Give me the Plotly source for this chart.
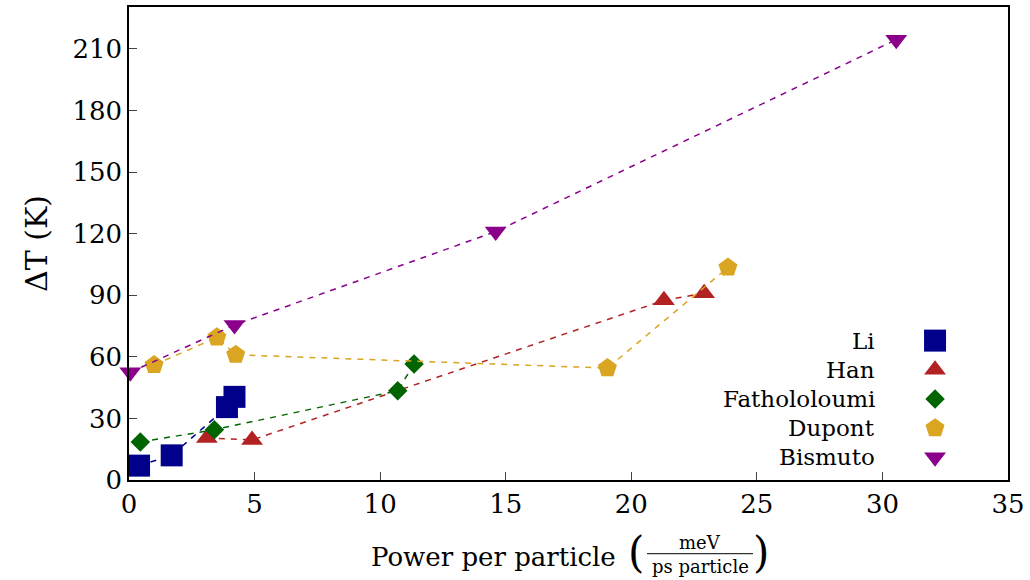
import plotly.graph_objects as go

# ---- data ----
li_x = [0.4, 1.7, 3.9, 4.2]
li_y = [7, 12, 35.5, 40.5]
han_x = [3.1, 4.9, 21.3, 22.9]
han_y = [20.5, 19.5, 87.5, 91]
fath_x = [0.45, 3.4, 10.7, 11.35]
fath_y = [18.5, 24.5, 43.5, 56.5]
dup_x = [1.0, 3.5, 4.25, 19.05, 23.85]
dup_y = [56, 69.5, 61, 54.5, 103.5]
bis_x = [0.05, 4.2, 14.6, 30.55]
bis_y = [52.5, 75.5, 121, 214.5]

names = ["Li", "Han", "Fathololoumi", "Dupont", "Bismuto"]
xs = [li_x, han_x, fath_x, dup_x, bis_x]
ys = [li_y, han_y, fath_y, dup_y, bis_y]
colors = ["#00008B", "#B22222", "#006400", "#DAA520", "#8B008B"]
symbols = ["square", "triangle-up", "diamond", "pentagon", "triangle-down"]
sizes = [22, 19, 15, 20, 19]

xticks = [0, 5, 10, 15, 20, 25, 30, 35]
yticks = [0, 30, 60, 90, 120, 150, 180, 210]

FONT = "DejaVu Serif, Liberation Serif, serif"
fig = go.Figure()
for n, x, y, c, s, sz in zip(names, xs, ys, colors, symbols, sizes):
    fig.add_trace(go.Scatter(
        x=x, y=y, mode="lines+markers", name=n, showlegend=False,
        line=dict(color=c, width=1.5, dash="6px,6px"),
        marker=dict(symbol=s, size=sz, color=c, opacity=1, line=dict(width=0)),
        cliponaxis=False))

# manual legend (text left, symbol right)
leg_text_x = 0.851
leg_sym_x = 0.917
leg_y0 = 0.2947
leg_step = 0.0617
leg_y = [leg_y0 - i * leg_step for i in range(len(names))]
fig.add_trace(go.Scatter(
    x=[leg_sym_x] * len(names), y=leg_y, mode="markers", showlegend=False,
    xaxis="x2", yaxis="y2", hoverinfo="skip",
    marker=dict(symbol=symbols, size=sizes, color=colors, opacity=1, line=dict(width=0))))
for n, yy in zip(names, leg_y):
    fig.add_annotation(text=n, x=leg_text_x, y=yy, xref="paper", yref="paper",
                       xanchor="right", yanchor="middle", showarrow=False,
                       font=dict(family=FONT, size=23, color="black"))

# x-axis title with fraction
def px_x(p):
    return (p - 129) / 879
def px_y(p):
    return (480 - p) / 475

fig.add_annotation(text="Power per particle", x=px_x(618), y=px_y(557), xref="paper", yref="paper",
                   xanchor="right", yanchor="middle", showarrow=False,
                   font=dict(family=FONT, size=26, color="black"))
fig.add_annotation(text="(", x=px_x(636), y=px_y(553), xref="paper", yref="paper",
                   xanchor="center", yanchor="middle", showarrow=False,
                   font=dict(family=FONT, size=42, color="black"))
fig.add_annotation(text=")", x=px_x(761), y=px_y(553), xref="paper", yref="paper",
                   xanchor="center", yanchor="middle", showarrow=False,
                   font=dict(family=FONT, size=42, color="black"))
fig.add_annotation(text="meV", x=px_x(700), y=px_y(543), xref="paper", yref="paper",
                   xanchor="center", yanchor="middle", showarrow=False,
                   font=dict(family=FONT, size=18, color="black"))
fig.add_annotation(text="ps particle", x=px_x(700), y=px_y(567), xref="paper", yref="paper",
                   xanchor="center", yanchor="middle", showarrow=False,
                   font=dict(family=FONT, size=18, color="black"))
fig.add_shape(type="line", xref="paper", yref="paper", x0=px_x(647), x1=px_x(753),
              y0=px_y(554), y1=px_y(554), line=dict(color="black", width=1))

fig.update_layout(
    width=1030, height=580,
    margin=dict(l=129, r=22, t=5, b=100),
    paper_bgcolor="white", plot_bgcolor="white",
    font=dict(family=FONT, size=24, color="black"),
    xaxis=dict(range=[0, 35], tickvals=xticks, ticks="inside", ticklen=8, tickwidth=1.2,
               showline=True, linecolor="black", linewidth=1.5, mirror=True,
               showgrid=False, zeroline=False, tickfont=dict(size=26)),
    yaxis=dict(range=[0, 230.4], tickvals=yticks, ticks="inside", ticklen=8, tickwidth=1.2,
               showline=True, linecolor="black", linewidth=1.5, mirror=True,
               showgrid=False, zeroline=False, tickfont=dict(size=26),
               title=dict(text="ΔT (K)", font=dict(size=30), standoff=16)),
    xaxis2=dict(range=[0, 1], overlaying="x", visible=False),
    yaxis2=dict(range=[0, 1], overlaying="y", visible=False),
    showlegend=False,
)

fig.write_html("out.html")
